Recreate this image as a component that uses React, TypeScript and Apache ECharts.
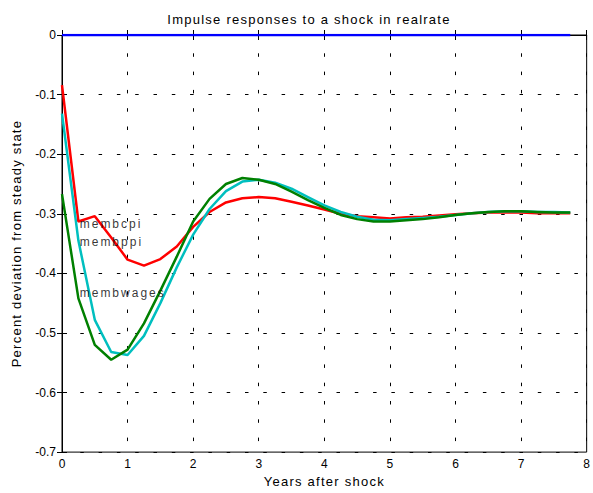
import React, { useEffect, useRef } from "react";
import * as echarts from "echarts";

const years = [0, 0.25, 0.5, 0.75, 1, 1.25, 1.5, 1.75, 2, 2.25, 2.5, 2.75, 3, 3.25, 3.5, 3.75, 4, 4.25, 4.5, 4.75, 5, 5.25, 5.5, 5.75, 6, 6.25, 6.5, 6.75, 7, 7.25, 7.5, 7.75];

const membrealrate = [0, 0, 0, 0, 0, 0, 0, 0, 0, 0, 0, 0, 0, 0, 0, 0, 0, 0, 0, 0, 0, 0, 0, 0, 0, 0, 0, 0, 0, 0, 0, 0];

const membcpi = [-0.084, -0.313, -0.304, -0.34, -0.377, -0.387, -0.376, -0.355, -0.322, -0.297, -0.281, -0.274, -0.272, -0.274, -0.28, -0.286, -0.293, -0.3, -0.304, -0.306, -0.308, -0.306, -0.305, -0.303, -0.301, -0.299, -0.298, -0.298, -0.298, -0.299, -0.299, -0.299];

const membppi = [-0.132, -0.345, -0.478, -0.532, -0.537, -0.505, -0.45, -0.39, -0.335, -0.292, -0.262, -0.246, -0.243, -0.248, -0.258, -0.272, -0.286, -0.297, -0.305, -0.31, -0.311, -0.309, -0.307, -0.305, -0.302, -0.299, -0.297, -0.296, -0.296, -0.297, -0.297, -0.298];

const membwages = [-0.267, -0.442, -0.52, -0.545, -0.528, -0.484, -0.429, -0.372, -0.313, -0.275, -0.25, -0.24, -0.243, -0.25, -0.263, -0.277, -0.29, -0.302, -0.309, -0.313, -0.313, -0.311, -0.309, -0.306, -0.302, -0.299, -0.297, -0.296, -0.296, -0.297, -0.298, -0.298];

const seriesLabels = ["membcpi", "membppi", "membwages"];
const labelX = [0.27, 0.27, 0.27];
const labelY = [-0.317, -0.347, -0.433];

const TICK_FONT = "Liberation Sans";
const NAME_FONT = "'Liberation Sans', Arial";
const LABEL_FONT = "'Liberation Sans', Helvetica";

const css = `
.irchart text[style*="Arial"], .irchart text[font-family*="Arial"] { letter-spacing: 1.25px; }
.irchart text[style*="Helvetica"], .irchart text[font-family*="Helvetica"] { letter-spacing: 2px; }
`;

export default function App() {
  const ref = useRef<HTMLDivElement>(null);
  useEffect(() => {
    document.body.style.margin = "0";
    const chart = echarts.init(ref.current!, null, { renderer: "svg" });
    const pair = (arr: number[]) => years.map((x, i) => [x, arr[i]]);
    const tickStyle = { inside: true, length: 5, lineStyle: { color: "#000" } };
    const split = { show: true, lineStyle: { color: "#000", type: [3.5, 14.8] as any, width: 1 } };
    const lineSeries = (name: string, arr: number[], color: string) => ({
      name,
      type: "line",
      data: pair(arr),
      showSymbol: false,
      symbol: "none",
      lineStyle: { color, width: 2.5 },
      itemStyle: { color },
    });
    chart.setOption({
      animation: false,
      backgroundColor: "#fff",
      title: {
        text: "Impulse responses to a shock in realrate",
        left: 304,
        textAlign: "center",
        top: 8,
        textStyle: { fontFamily: NAME_FONT, fontSize: 13, fontWeight: "normal", color: "#000" },
      },
      grid: { left: 62, top: 35, right: 5, bottom: 38, show: true, borderColor: "#000", borderWidth: 1 },
      xAxis: [
        {
          type: "value",
          min: 0,
          max: 8,
          interval: 1,
          name: "Years after shock",
          nameLocation: "middle",
          nameGap: 21,
          nameTextStyle: { fontFamily: NAME_FONT, fontSize: 13, color: "#000" },
          axisLine: { lineStyle: { color: "#000", width: 1 } },
          axisTick: tickStyle,
          axisLabel: { fontFamily: TICK_FONT, fontSize: 12, color: "#000", margin: 6 },
          splitLine: split,
        },
        {
          type: "value",
          position: "top",
          min: 0,
          max: 8,
          interval: 1,
          axisLine: { show: false },
          axisTick: tickStyle,
          axisLabel: { show: false },
          splitLine: { show: false },
        },
      ],
      yAxis: [
        {
          type: "value",
          min: -0.7,
          max: 0,
          interval: 0.1,
          name: "Percent deviation from steady state",
          nameLocation: "middle",
          nameGap: 39,
          nameTextStyle: { fontFamily: NAME_FONT, fontSize: 13, color: "#000" },
          axisLine: { show: true, lineStyle: { color: "#000", width: 1 } },
          axisTick: tickStyle,
          axisLabel: {
            fontFamily: TICK_FONT,
            fontSize: 12,
            color: "#000",
            margin: 6,
            formatter: (v: number) => (Math.abs(v) < 1e-9 ? "0" : String(Math.round(v * 10) / 10)),
          },
          splitLine: split,
        },
        {
          type: "value",
          position: "right",
          min: -0.7,
          max: 0,
          interval: 0.1,
          axisLine: { show: false },
          axisTick: tickStyle,
          axisLabel: { show: false },
          splitLine: { show: false },
        },
      ],
      series: [
        lineSeries("membcpi", membcpi, "#ff0000"),
        lineSeries("membppi", membppi, "#00bfbf"),
        lineSeries("membwages", membwages, "#008000"),
        lineSeries("membrealrate", membrealrate, "#0000ff"),
        {
          type: "scatter",
          symbolSize: 0,
          z: 5,
          data: seriesLabels.map((n, i) => ({ value: [labelX[i], labelY[i]], name: n })),
          label: {
            show: true,
            position: "right",
            distance: 0,
            formatter: (p: any) => p.name,
            fontFamily: LABEL_FONT,
            fontSize: 12,
            color: "#000",
          },
          silent: true,
        },
      ],
    });
    return () => chart.dispose();
  }, []);
  return (
    <>
      <style>{css}</style>
      <div className="irchart" ref={ref} style={{ position: "absolute", left: 0, top: 0, width: 593, height: 493 }} />
    </>
  );
}
